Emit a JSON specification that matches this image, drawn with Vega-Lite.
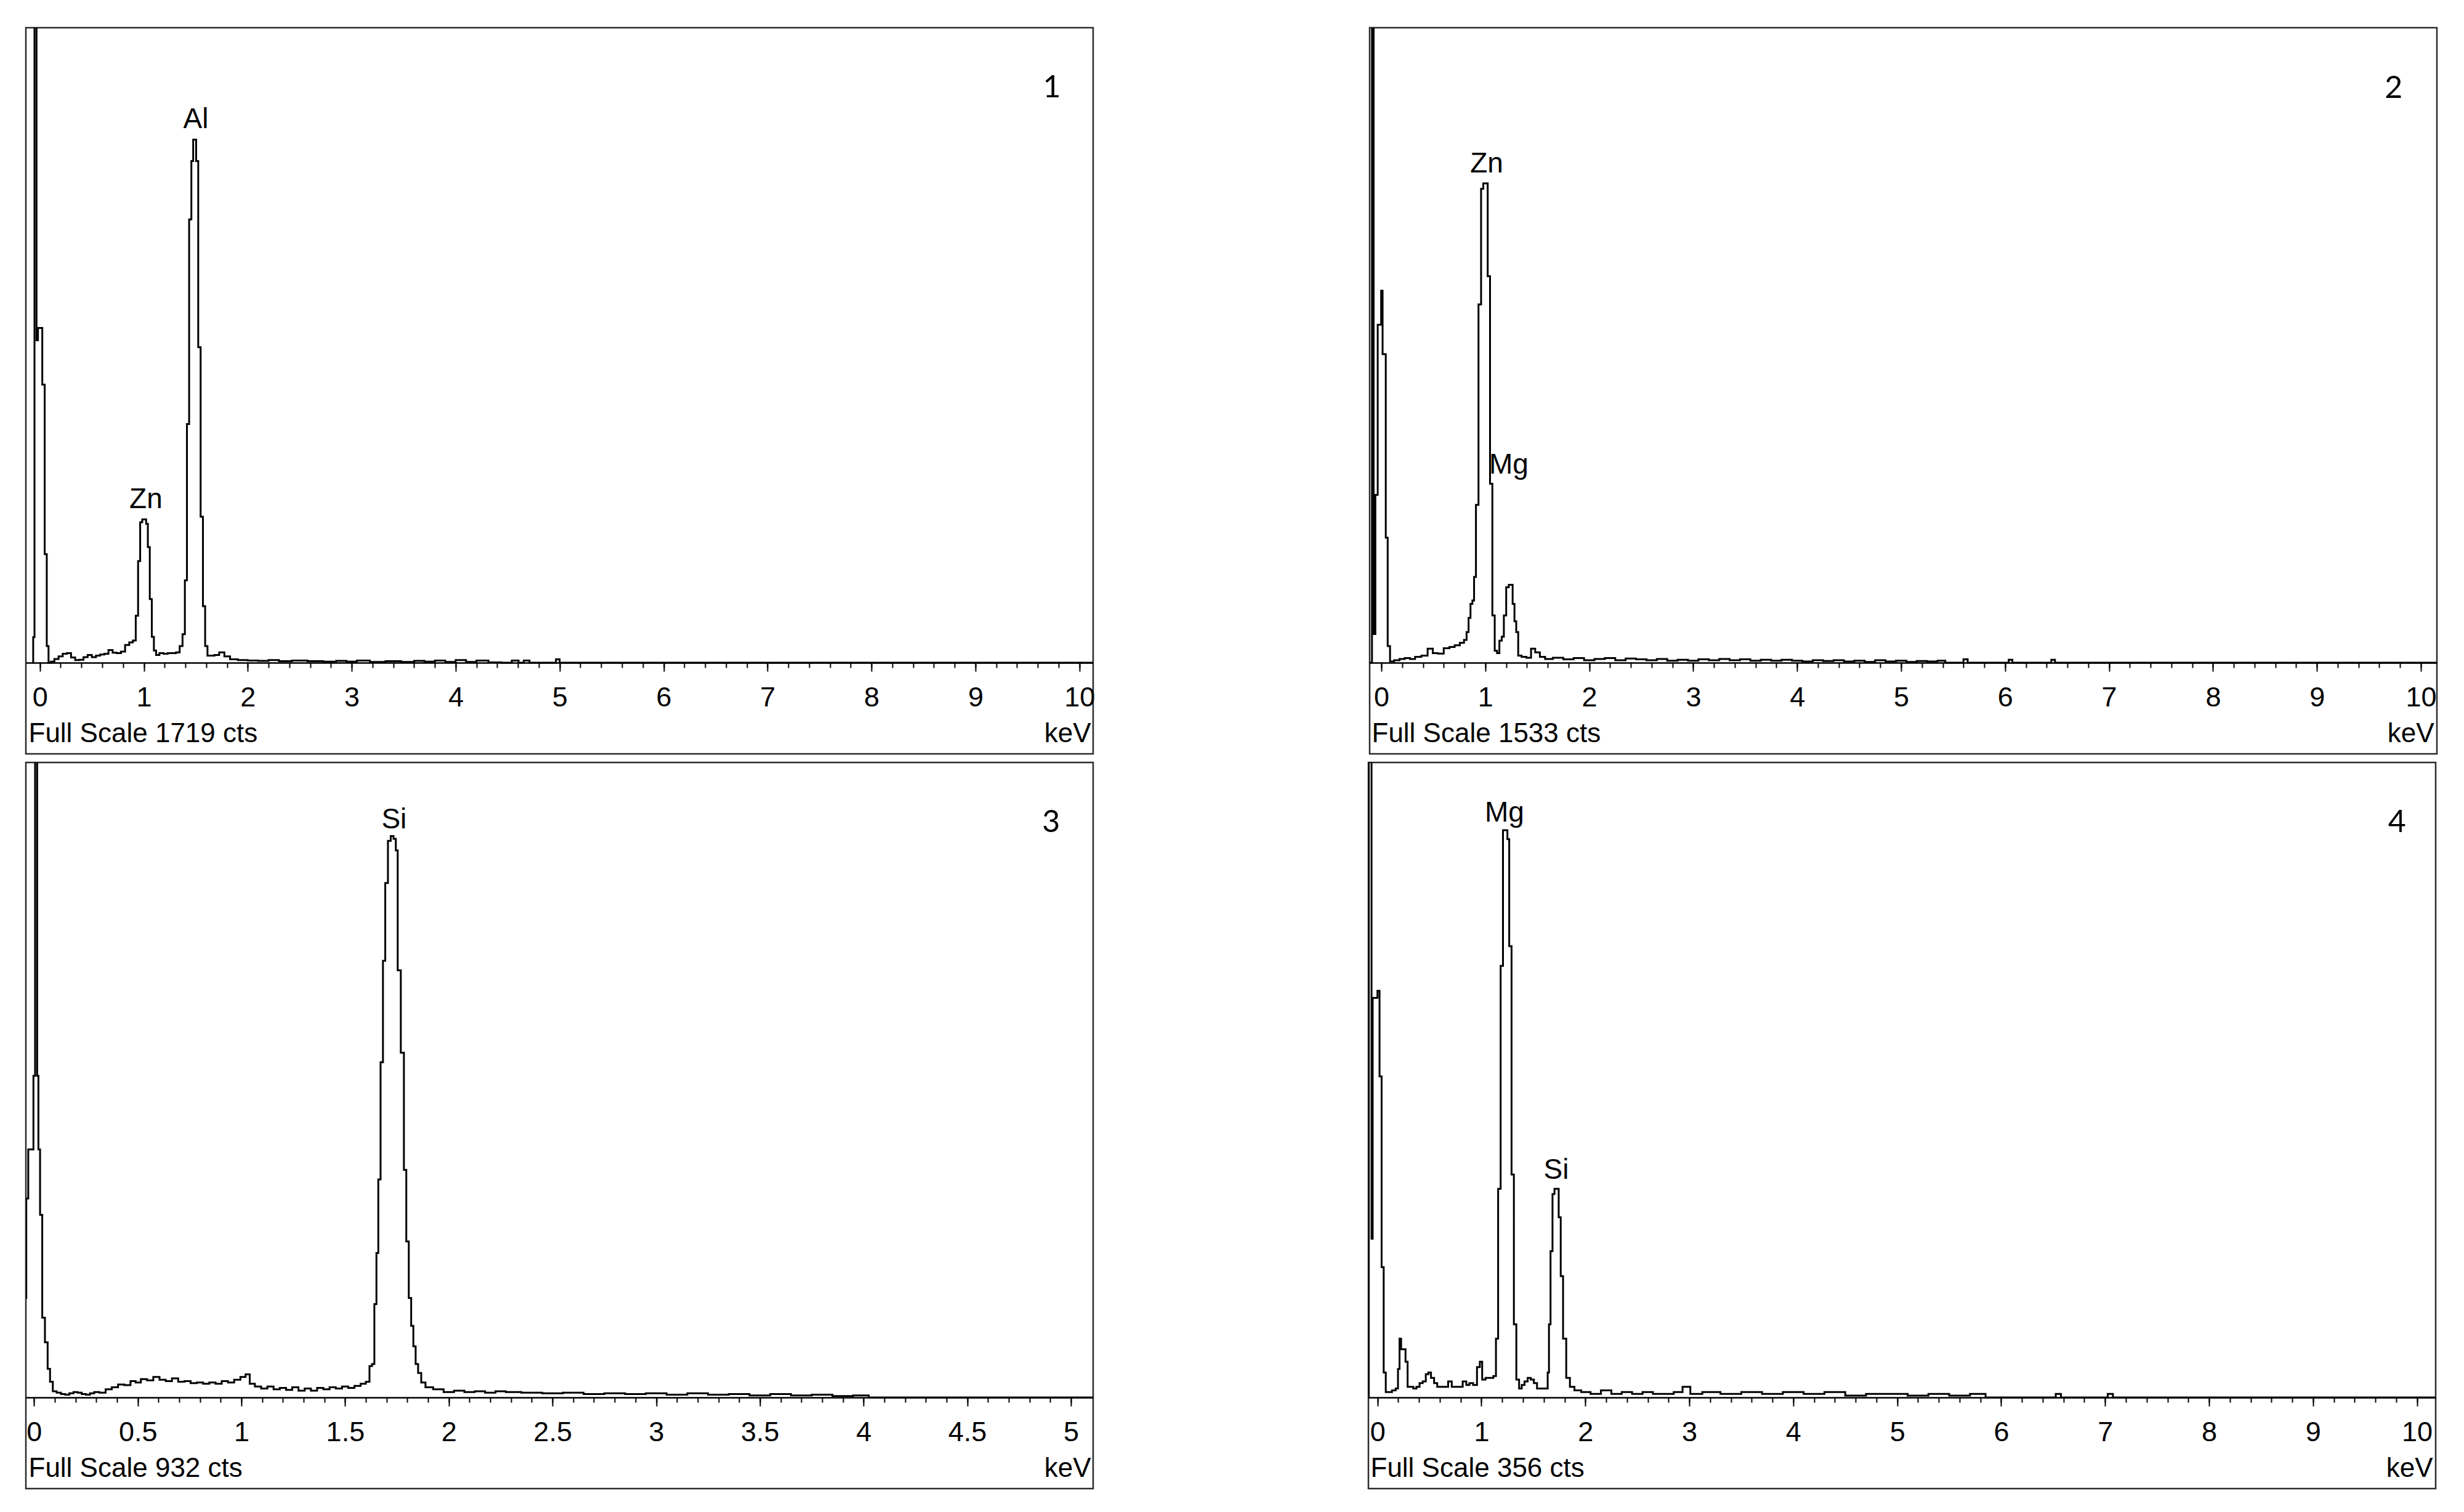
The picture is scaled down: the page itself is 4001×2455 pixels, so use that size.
{
  "$schema": "https://vega.github.io/schema/vega-lite/v6.json",
  "padding": {"left": 40, "top": 43, "right": 0, "bottom": 0},
  "background": "white",
  "config": {
    "view": {"stroke": "#2b2b2b", "strokeWidth": 2.5},
    "axis": {
      "domainColor": "#000000", "domainWidth": 2.5, "tickColor": "#000000", "tickWidth": 2,
      "labelFont": "Liberation Sans", "labelFontSize": 45, "labelColor": "#000000",
      "titleFont": "Liberation Sans", "titleFontSize": 44, "titleFontWeight": "normal", "titleColor": "#000000",
      "grid": false, "offset": -148, "titleY": 128, "titleBaseline": "alphabetic", "orient": "bottom"
    }
  },
  "datasets": {
    "p1": [
      {"e":-0.07,"c":0},{"e":-0.058,"c":69},{"e":-0.045,"c":2200},{"e":-0.036,"c":2200},{"e":-0.028,"c":873},{"e":-0.008,"c":906},{"e":0.012,"c":906},{"e":0.035,"c":753},{"e":0.058,"c":294},{"e":0.075,"c":45},{"e":0.092,"c":0},{"e":0.12,"c":3},{"e":0.16,"c":10},{"e":0.2,"c":17},{"e":0.24,"c":24},{"e":0.28,"c":26},{"e":0.32,"c":14},{"e":0.36,"c":7},{"e":0.4,"c":8},{"e":0.44,"c":15},{"e":0.48,"c":21},{"e":0.52,"c":15},{"e":0.56,"c":19},{"e":0.6,"c":22},{"e":0.64,"c":24},{"e":0.68,"c":34},{"e":0.72,"c":27},{"e":0.76,"c":26},{"e":0.8,"c":30},{"e":0.84,"c":48},{"e":0.88,"c":55},{"e":0.91,"c":60},{"e":0.935,"c":127},{"e":0.955,"c":275},{"e":0.975,"c":380},{"e":0.995,"c":388},{"e":1.015,"c":388},{"e":1.03,"c":376},{"e":1.048,"c":313},{"e":1.067,"c":172},{"e":1.087,"c":70},{"e":1.107,"c":33},{"e":1.13,"c":21},{"e":1.17,"c":26},{"e":1.21,"c":24},{"e":1.25,"c":26},{"e":1.29,"c":26},{"e":1.33,"c":28},{"e":1.36,"c":45},{"e":1.385,"c":77},{"e":1.405,"c":223},{"e":1.425,"c":646},{"e":1.447,"c":1200},{"e":1.468,"c":1358},{"e":1.482,"c":1416},{"e":1.495,"c":1416},{"e":1.512,"c":1358},{"e":1.535,"c":854},{"e":1.558,"c":395},{"e":1.58,"c":153},{"e":1.6,"c":45},{"e":1.625,"c":19},{"e":1.66,"c":19},{"e":1.7,"c":21},{"e":1.75,"c":28},{"e":1.8,"c":17},{"e":1.86,"c":9},{"e":1.95,"c":7},{"e":2.05,"c":6},{"e":2.15,"c":5},{"e":2.25,"c":7},{"e":2.35,"c":4},{"e":2.5,"c":6},{"e":2.65,"c":4},{"e":2.8,"c":3},{"e":2.9,"c":5},{"e":3.0,"c":3},{"e":3.1,"c":6},{"e":3.25,"c":2},{"e":3.4,"c":4},{"e":3.55,"c":2},{"e":3.65,"c":5},{"e":3.75,"c":3},{"e":3.85,"c":6},{"e":3.95,"c":2},{"e":4.05,"c":7},{"e":4.15,"c":2},{"e":4.25,"c":6},{"e":4.38,"c":1},{"e":4.5,"c":0},{"e":4.58,"c":6},{"e":4.63,"c":0},{"e":4.68,"c":6},{"e":4.74,"c":0},{"e":4.95,"c":0},{"e":4.98,"c":9},{"e":5.02,"c":0},{"e":10.132,"c":0}
    ],
    "p2": [
      {"e":-0.112,"c":0},{"e":-0.095,"c":0},{"e":-0.085,"c":1800},{"e":-0.078,"c":1800},{"e":-0.07,"c":69},{"e":-0.045,"c":405},{"e":-0.025,"c":816},{"e":-0.008,"c":816},{"e":0.004,"c":898},{"e":0.02,"c":745},{"e":0.035,"c":745},{"e":0.05,"c":302},{"e":0.072,"c":40},{"e":0.095,"c":3},{"e":0.15,"c":6},{"e":0.2,"c":9},{"e":0.25,"c":11},{"e":0.3,"c":9},{"e":0.35,"c":14},{"e":0.42,"c":17},{"e":0.47,"c":34},{"e":0.52,"c":23},{"e":0.57,"c":22},{"e":0.63,"c":35},{"e":0.68,"c":38},{"e":0.73,"c":42},{"e":0.78,"c":48},{"e":0.81,"c":55},{"e":0.83,"c":74},{"e":0.848,"c":108},{"e":0.867,"c":142},{"e":0.885,"c":150},{"e":0.899,"c":207},{"e":0.921,"c":381},{"e":0.948,"c":865},{"e":0.971,"c":1144},{"e":0.99,"c":1157},{"e":1.012,"c":1157},{"e":1.034,"c":933},{"e":1.057,"c":432},{"e":1.079,"c":114},{"e":1.102,"c":29},{"e":1.124,"c":23},{"e":1.147,"c":53},{"e":1.17,"c":63},{"e":1.187,"c":114},{"e":1.215,"c":182},{"e":1.237,"c":188},{"e":1.255,"c":188},{"e":1.271,"c":142},{"e":1.29,"c":100},{"e":1.305,"c":74},{"e":1.328,"c":17},{"e":1.37,"c":14},{"e":1.42,"c":12},{"e":1.46,"c":34},{"e":1.5,"c":25},{"e":1.55,"c":14},{"e":1.6,"c":9},{"e":1.7,"c":12},{"e":1.8,"c":8},{"e":1.9,"c":11},{"e":2.0,"c":6},{"e":2.1,"c":9},{"e":2.2,"c":11},{"e":2.3,"c":6},{"e":2.4,"c":10},{"e":2.5,"c":8},{"e":2.6,"c":6},{"e":2.7,"c":9},{"e":2.8,"c":5},{"e":2.9,"c":7},{"e":3.0,"c":5},{"e":3.1,"c":8},{"e":3.2,"c":6},{"e":3.3,"c":9},{"e":3.4,"c":6},{"e":3.5,"c":8},{"e":3.6,"c":5},{"e":3.7,"c":7},{"e":3.8,"c":5},{"e":3.9,"c":7},{"e":4.0,"c":5},{"e":4.1,"c":3},{"e":4.2,"c":6},{"e":4.3,"c":4},{"e":4.4,"c":6},{"e":4.5,"c":3},{"e":4.6,"c":5},{"e":4.7,"c":2},{"e":4.8,"c":6},{"e":4.9,"c":3},{"e":5.0,"c":5},{"e":5.1,"c":2},{"e":5.2,"c":4},{"e":5.3,"c":3},{"e":5.4,"c":5},{"e":5.45,"c":0},{"e":5.58,"c":0},{"e":5.62,"c":8},{"e":5.66,"c":0},{"e":6.02,"c":0},{"e":6.05,"c":7},{"e":6.09,"c":0},{"e":6.43,"c":0},{"e":6.46,"c":7},{"e":6.5,"c":0},{"e":10.154,"c":0}
    ],
    "p3": [
      {"e":-0.041,"c":146},{"e":-0.034,"c":292},{"e":-0.022,"c":364},{"e":-0.008,"c":364},{"e":0.002,"c":472},{"e":0.008,"c":1100},{"e":0.012,"c":1100},{"e":0.018,"c":472},{"e":0.024,"c":364},{"e":0.034,"c":268},{"e":0.045,"c":117},{"e":0.06,"c":81},{"e":0.071,"c":42},{"e":0.083,"c":23},{"e":0.098,"c":9},{"e":0.12,"c":7},{"e":0.14,"c":5},{"e":0.16,"c":4},{"e":0.18,"c":6},{"e":0.2,"c":8},{"e":0.22,"c":7},{"e":0.24,"c":5},{"e":0.26,"c":4},{"e":0.28,"c":6},{"e":0.3,"c":8},{"e":0.33,"c":7},{"e":0.36,"c":12},{"e":0.39,"c":15},{"e":0.42,"c":19},{"e":0.45,"c":18},{"e":0.48,"c":24},{"e":0.5,"c":22},{"e":0.53,"c":27},{"e":0.56,"c":25},{"e":0.59,"c":30},{"e":0.62,"c":26},{"e":0.65,"c":24},{"e":0.68,"c":28},{"e":0.71,"c":23},{"e":0.74,"c":24},{"e":0.77,"c":21},{"e":0.8,"c":22},{"e":0.83,"c":20},{"e":0.86,"c":22},{"e":0.89,"c":20},{"e":0.92,"c":24},{"e":0.95,"c":22},{"e":0.98,"c":26},{"e":1.01,"c":30},{"e":1.03,"c":34},{"e":1.05,"c":20},{"e":1.08,"c":16},{"e":1.11,"c":13},{"e":1.14,"c":16},{"e":1.17,"c":12},{"e":1.2,"c":14},{"e":1.23,"c":11},{"e":1.26,"c":15},{"e":1.29,"c":10},{"e":1.32,"c":13},{"e":1.35,"c":10},{"e":1.38,"c":14},{"e":1.41,"c":12},{"e":1.44,"c":15},{"e":1.47,"c":13},{"e":1.5,"c":16},{"e":1.53,"c":14},{"e":1.56,"c":17},{"e":1.59,"c":20},{"e":1.61,"c":23},{"e":1.625,"c":46},{"e":1.635,"c":49},{"e":1.647,"c":137},{"e":1.655,"c":212},{"e":1.665,"c":320},{"e":1.677,"c":492},{"e":1.688,"c":641},{"e":1.699,"c":755},{"e":1.714,"c":817},{"e":1.726,"c":824},{"e":1.741,"c":820},{"e":1.748,"c":803},{"e":1.759,"c":627},{"e":1.778,"c":506},{"e":1.789,"c":334},{"e":1.801,"c":229},{"e":1.813,"c":146},{"e":1.824,"c":105},{"e":1.834,"c":75},{"e":1.846,"c":49},{"e":1.858,"c":36},{"e":1.876,"c":22},{"e":1.899,"c":15},{"e":1.95,"c":12},{"e":2.0,"c":8},{"e":2.05,"c":10},{"e":2.1,"c":8},{"e":2.15,"c":9},{"e":2.2,"c":7},{"e":2.25,"c":9},{"e":2.3,"c":8},{"e":2.4,"c":7},{"e":2.5,"c":6},{"e":2.6,"c":7},{"e":2.7,"c":5},{"e":2.8,"c":6},{"e":2.9,"c":5},{"e":3.0,"c":6},{"e":3.1,"c":4},{"e":3.2,"c":6},{"e":3.3,"c":4},{"e":3.4,"c":5},{"e":3.5,"c":3},{"e":3.6,"c":5},{"e":3.7,"c":3},{"e":3.8,"c":4},{"e":3.9,"c":2},{"e":4.0,"c":3},{"e":4.05,"c":0},{"e":5.107,"c":0}
    ],
    "p4": [
      {"e":-0.087,"c":0},{"e":-0.08,"c":420},{"e":-0.062,"c":420},{"e":-0.052,"c":89},{"e":-0.04,"c":224},{"e":-0.01,"c":224},{"e":0.01,"c":228},{"e":0.03,"c":180},{"e":0.05,"c":73},{"e":0.07,"c":14},{"e":0.09,"c":3},{"e":0.12,"c":3},{"e":0.16,"c":4},{"e":0.19,"c":5},{"e":0.205,"c":16},{"e":0.22,"c":33},{"e":0.235,"c":27},{"e":0.26,"c":27},{"e":0.28,"c":20},{"e":0.3,"c":6},{"e":0.33,"c":6},{"e":0.36,"c":5},{"e":0.39,"c":6},{"e":0.42,"c":8},{"e":0.45,"c":9},{"e":0.48,"c":13},{"e":0.5,"c":14},{"e":0.53,"c":11},{"e":0.56,"c":8},{"e":0.59,"c":6},{"e":0.62,"c":6},{"e":0.66,"c":6},{"e":0.7,"c":9},{"e":0.73,"c":6},{"e":0.76,"c":6},{"e":0.8,"c":6},{"e":0.84,"c":9},{"e":0.87,"c":7},{"e":0.9,"c":8},{"e":0.94,"c":7},{"e":0.975,"c":17},{"e":0.995,"c":20},{"e":1.02,"c":10},{"e":1.06,"c":11},{"e":1.1,"c":11},{"e":1.13,"c":12},{"e":1.15,"c":33},{"e":1.172,"c":117},{"e":1.198,"c":242},{"e":1.217,"c":318},{"e":1.243,"c":318},{"e":1.257,"c":313},{"e":1.278,"c":253},{"e":1.302,"c":125},{"e":1.323,"c":41},{"e":1.349,"c":10},{"e":1.376,"c":5},{"e":1.4,"c":7},{"e":1.43,"c":9},{"e":1.46,"c":11},{"e":1.49,"c":10},{"e":1.52,"c":8},{"e":1.55,"c":5},{"e":1.6,"c":5},{"e":1.63,"c":5},{"e":1.645,"c":14},{"e":1.655,"c":41},{"e":1.675,"c":82},{"e":1.693,"c":114},{"e":1.713,"c":117},{"e":1.733,"c":117},{"e":1.754,"c":101},{"e":1.772,"c":68},{"e":1.799,"c":33},{"e":1.833,"c":11},{"e":1.87,"c":6},{"e":1.92,"c":4},{"e":2.0,"c":3},{"e":2.1,"c":2},{"e":2.2,"c":4},{"e":2.3,"c":2},{"e":2.4,"c":3},{"e":2.5,"c":2},{"e":2.6,"c":3},{"e":2.7,"c":2},{"e":2.8,"c":2},{"e":2.9,"c":3},{"e":2.97,"c":6},{"e":3.05,"c":2},{"e":3.2,"c":3},{"e":3.4,"c":2},{"e":3.6,"c":3},{"e":3.8,"c":2},{"e":4.0,"c":3},{"e":4.2,"c":2},{"e":4.4,"c":3},{"e":4.6,"c":1},{"e":4.8,"c":2},{"e":5.0,"c":2},{"e":5.2,"c":1},{"e":5.4,"c":2},{"e":5.6,"c":1},{"e":5.8,"c":2},{"e":5.9,"c":0},{"e":6.5,"c":0},{"e":6.55,"c":2},{"e":6.6,"c":0},{"e":7.0,"c":0},{"e":7.05,"c":2},{"e":7.1,"c":0},{"e":10.18,"c":0}
    ],
    "labels": [
      {"panel":1,"kind":"peak","t":"Al","e":1.5,"c":1447},
      {"panel":1,"kind":"peak","t":"Zn","e":1.02,"c":418},
      {"panel":1,"kind":"num","t":"1","e":9.735,"c":1530},
      {"panel":2,"kind":"peak","t":"Zn","e":1.013,"c":1184},
      {"panel":2,"kind":"peak","t":"Mg","e":1.226,"c":456},
      {"panel":2,"kind":"num","t":"2","e":9.738,"c":1364},
      {"panel":3,"kind":"peak","t":"Si","e":1.736,"c":835},
      {"panel":3,"kind":"num","t":"3","e":4.904,"c":830},
      {"panel":4,"kind":"peak","t":"Mg","e":1.222,"c":323},
      {"panel":4,"kind":"peak","t":"Si","e":1.72,"c":122.5},
      {"panel":4,"kind":"num","t":"4","e":9.808,"c":317}
    ]
  },
  "spacing": 10,
  "vconcat": [
    {
      "spacing": 443,
      "hconcat": [
        {
          "width": 1733, "height": 1179,
          "resolve": {"axis": {"x": "independent"}},
          "layer": [
            {
              "data": {"name": "p1"},
              "mark": {"type": "line", "interpolate": "step", "color": "#000000", "strokeWidth": 3, "clip": true},
              "encoding": {
                "x": {"field": "e", "type": "quantitative", "scale": {"domain": [-0.1345, 10.132], "nice": false, "zero": false},
                  "axis": {"orient": "bottom", "values": [0,1,2,3,4,5,6,7,8,9,10], "tickSize": 14, "labelPadding": 56, "labelBaseline": "alphabetic", "labelFlush": false, "labelOverlap": false, "labelBound": false, "title": "keV", "titleX": 1729, "titleAlign": "right"}},
                "y": {"field": "c", "type": "quantitative", "scale": {"domain": [-246.76, 1719], "nice": false, "zero": false}, "axis": null}
              }
            },
            {
              "data": {"name": "labels"},
              "transform": [{"filter": "datum.panel == 1 && datum.kind == 'peak'"}],
              "mark": {"type": "text", "font": "Liberation Sans", "fontSize": 46, "color": "#000000", "align": "center", "baseline": "alphabetic"},
              "encoding": {
                "x": {"field": "e", "type": "quantitative", "scale": {"domain": [-0.1345, 10.132], "nice": false, "zero": false},
                  "axis": {"orient": "bottom", "values": [0,0.2,0.4,0.6,0.8,1,1.2,1.4,1.6,1.8,2,2.2,2.4,2.6,2.8,3,3.2,3.4,3.6,3.8,4,4.2,4.4,4.6,4.8,5,5.2,5.4,5.6,5.8,6,6.2,6.4,6.6,6.8,7,7.2,7.4,7.6,7.8,8,8.2,8.4,8.6,8.8,9,9.2,9.4,9.6,9.8,10], "tickSize": 8, "labels": false, "domain": false, "title": "Full Scale 1719 cts", "titleX": 4, "titleAlign": "left"}},
                "y": {"field": "c", "type": "quantitative", "scale": {"domain": [-246.76, 1719], "nice": false, "zero": false}, "axis": null},
                "text": {"field": "t"}
              }
            },
            {
              "data": {"name": "labels"},
              "transform": [{"filter": "datum.panel == 1 && datum.kind == 'num'"}],
              "mark": {"type": "text", "font": "Lato", "fontSize": 50, "color": "#000000", "align": "center", "baseline": "alphabetic"},
              "encoding": {
                "x": {"field": "e", "type": "quantitative", "scale": {"domain": [-0.1345, 10.132], "nice": false, "zero": false}, "axis": null},
                "y": {"field": "c", "type": "quantitative", "scale": {"domain": [-246.76, 1719], "nice": false, "zero": false}, "axis": null},
                "text": {"field": "t"}
              }
            }
          ]
        },
        {
          "width": 1733, "height": 1179,
          "resolve": {"axis": {"x": "independent"}},
          "layer": [
            {
              "data": {"name": "p2"},
              "mark": {"type": "line", "interpolate": "step", "color": "#000000", "strokeWidth": 3, "clip": true},
              "encoding": {
                "x": {"field": "e", "type": "quantitative", "scale": {"domain": [-0.1126, 10.154], "nice": false, "zero": false},
                  "axis": {"orient": "bottom", "values": [0,1,2,3,4,5,6,7,8,9,10], "tickSize": 14, "labelPadding": 56, "labelBaseline": "alphabetic", "labelFlush": false, "labelOverlap": false, "labelBound": false, "title": "keV", "titleX": 1728, "titleAlign": "right"}},
                "y": {"field": "c", "type": "quantitative", "scale": {"domain": [-220.06, 1533], "nice": false, "zero": false}, "axis": null}
              }
            },
            {
              "data": {"name": "labels"},
              "transform": [{"filter": "datum.panel == 2 && datum.kind == 'peak'"}],
              "mark": {"type": "text", "font": "Liberation Sans", "fontSize": 46, "color": "#000000", "align": "center", "baseline": "alphabetic"},
              "encoding": {
                "x": {"field": "e", "type": "quantitative", "scale": {"domain": [-0.1126, 10.154], "nice": false, "zero": false},
                  "axis": {"orient": "bottom", "values": [0,0.2,0.4,0.6,0.8,1,1.2,1.4,1.6,1.8,2,2.2,2.4,2.6,2.8,3,3.2,3.4,3.6,3.8,4,4.2,4.4,4.6,4.8,5,5.2,5.4,5.6,5.8,6,6.2,6.4,6.6,6.8,7,7.2,7.4,7.6,7.8,8,8.2,8.4,8.6,8.8,9,9.2,9.4,9.6,9.8,10], "tickSize": 8, "labels": false, "domain": false, "title": "Full Scale 1533 cts", "titleX": 3, "titleAlign": "left"}},
                "y": {"field": "c", "type": "quantitative", "scale": {"domain": [-220.06, 1533], "nice": false, "zero": false}, "axis": null},
                "text": {"field": "t"}
              }
            },
            {
              "data": {"name": "labels"},
              "transform": [{"filter": "datum.panel == 2 && datum.kind == 'num'"}],
              "mark": {"type": "text", "font": "Lato", "fontSize": 50, "color": "#000000", "align": "center", "baseline": "alphabetic"},
              "encoding": {
                "x": {"field": "e", "type": "quantitative", "scale": {"domain": [-0.1126, 10.154], "nice": false, "zero": false}, "axis": null},
                "y": {"field": "c", "type": "quantitative", "scale": {"domain": [-220.06, 1533], "nice": false, "zero": false}, "axis": null},
                "text": {"field": "t"}
              }
            }
          ]
        }
      ]
    },
    {
      "spacing": 443,
      "hconcat": [
        {
          "width": 1733, "height": 1179,
          "resolve": {"axis": {"x": "independent"}},
          "layer": [
            {
              "data": {"name": "p3"},
              "mark": {"type": "line", "interpolate": "step", "color": "#000000", "strokeWidth": 3, "clip": true},
              "encoding": {
                "x": {"field": "e", "type": "quantitative", "scale": {"domain": [-0.0395, 5.107], "nice": false, "zero": false},
                  "axis": {"orient": "bottom", "values": [0,0.5,1,1.5,2,2.5,3,3.5,4,4.5,5], "format": "~g", "tickSize": 14, "labelPadding": 56, "labelBaseline": "alphabetic", "labelFlush": false, "labelOverlap": false, "labelBound": false, "title": "keV", "titleX": 1729, "titleAlign": "right"}},
                "y": {"field": "c", "type": "quantitative", "scale": {"domain": [-133.79, 932], "nice": false, "zero": false}, "axis": null}
              }
            },
            {
              "data": {"name": "labels"},
              "transform": [{"filter": "datum.panel == 3 && datum.kind == 'peak'"}],
              "mark": {"type": "text", "font": "Liberation Sans", "fontSize": 46, "color": "#000000", "align": "center", "baseline": "alphabetic"},
              "encoding": {
                "x": {"field": "e", "type": "quantitative", "scale": {"domain": [-0.0395, 5.107], "nice": false, "zero": false},
                  "axis": {"orient": "bottom", "values": [0,0.1,0.2,0.3,0.4,0.5,0.6,0.7,0.8,0.9,1,1.1,1.2,1.3,1.4,1.5,1.6,1.7,1.8,1.9,2,2.1,2.2,2.3,2.4,2.5,2.6,2.7,2.8,2.9,3,3.1,3.2,3.3,3.4,3.5,3.6,3.7,3.8,3.9,4,4.1,4.2,4.3,4.4,4.5,4.6,4.7,4.8,4.9,5], "tickSize": 8, "labels": false, "domain": false, "title": "Full Scale 932 cts", "titleX": 4, "titleAlign": "left"}},
                "y": {"field": "c", "type": "quantitative", "scale": {"domain": [-133.79, 932], "nice": false, "zero": false}, "axis": null},
                "text": {"field": "t"}
              }
            },
            {
              "data": {"name": "labels"},
              "transform": [{"filter": "datum.panel == 3 && datum.kind == 'num'"}],
              "mark": {"type": "text", "font": "Lato", "fontSize": 50, "color": "#000000", "align": "center", "baseline": "alphabetic"},
              "encoding": {
                "x": {"field": "e", "type": "quantitative", "scale": {"domain": [-0.0395, 5.107], "nice": false, "zero": false}, "axis": null},
                "y": {"field": "c", "type": "quantitative", "scale": {"domain": [-133.79, 932], "nice": false, "zero": false}, "axis": null},
                "text": {"field": "t"}
              }
            }
          ]
        },
        {
          "width": 1733, "height": 1179,
          "resolve": {"axis": {"x": "independent"}},
          "layer": [
            {
              "data": {"name": "p4"},
              "mark": {"type": "line", "interpolate": "step", "color": "#000000", "strokeWidth": 3, "clip": true},
              "encoding": {
                "x": {"field": "e", "type": "quantitative", "scale": {"domain": [-0.087, 10.18], "nice": false, "zero": false},
                  "axis": {"orient": "bottom", "values": [0,1,2,3,4,5,6,7,8,9,10], "tickSize": 14, "labelPadding": 56, "labelBaseline": "alphabetic", "labelFlush": false, "labelOverlap": false, "labelBound": false, "title": "keV", "titleX": 1728, "titleAlign": "right"}},
                "y": {"field": "c", "type": "quantitative", "scale": {"domain": [-51.1, 356], "nice": false, "zero": false}, "axis": null}
              }
            },
            {
              "data": {"name": "labels"},
              "transform": [{"filter": "datum.panel == 4 && datum.kind == 'peak'"}],
              "mark": {"type": "text", "font": "Liberation Sans", "fontSize": 46, "color": "#000000", "align": "center", "baseline": "alphabetic"},
              "encoding": {
                "x": {"field": "e", "type": "quantitative", "scale": {"domain": [-0.087, 10.18], "nice": false, "zero": false},
                  "axis": {"orient": "bottom", "values": [0,0.2,0.4,0.6,0.8,1,1.2,1.4,1.6,1.8,2,2.2,2.4,2.6,2.8,3,3.2,3.4,3.6,3.8,4,4.2,4.4,4.6,4.8,5,5.2,5.4,5.6,5.8,6,6.2,6.4,6.6,6.8,7,7.2,7.4,7.6,7.8,8,8.2,8.4,8.6,8.8,9,9.2,9.4,9.6,9.8,10], "tickSize": 8, "labels": false, "domain": false, "title": "Full Scale 356 cts", "titleX": 3, "titleAlign": "left"}},
                "y": {"field": "c", "type": "quantitative", "scale": {"domain": [-51.1, 356], "nice": false, "zero": false}, "axis": null},
                "text": {"field": "t"}
              }
            },
            {
              "data": {"name": "labels"},
              "transform": [{"filter": "datum.panel == 4 && datum.kind == 'num'"}],
              "mark": {"type": "text", "font": "Lato", "fontSize": 50, "color": "#000000", "align": "center", "baseline": "alphabetic"},
              "encoding": {
                "x": {"field": "e", "type": "quantitative", "scale": {"domain": [-0.087, 10.18], "nice": false, "zero": false}, "axis": null},
                "y": {"field": "c", "type": "quantitative", "scale": {"domain": [-51.1, 356], "nice": false, "zero": false}, "axis": null},
                "text": {"field": "t"}
              }
            }
          ]
        }
      ]
    }
  ]
}
